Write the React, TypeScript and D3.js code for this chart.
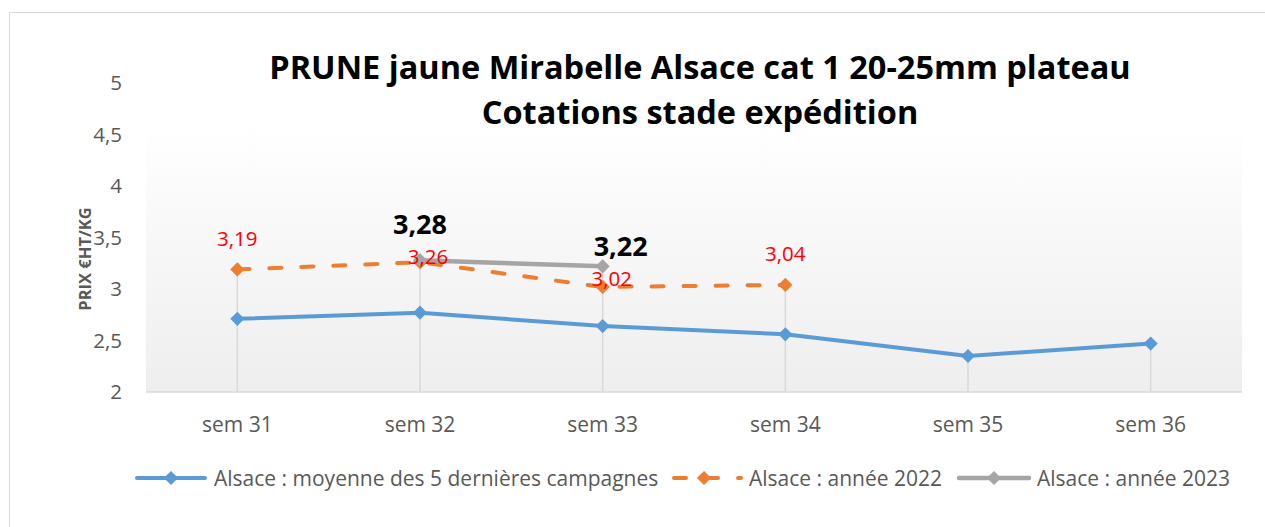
import React from "react";
import * as d3 from "d3";

const categories = ["sem 31", "sem 32", "sem 33", "sem 34", "sem 35", "sem 36"];
const moyenne = [2.71, 2.77, 2.64, 2.56, 2.35, 2.47];
const annee2022 = [3.19, 3.26, 3.02, 3.04, null, null];
const annee2023 = [null, 3.28, 3.22, null, null, null];
const yTicks = [2, 2.5, 3, 3.5, 4, 4.5, 5];
const titleLines = [
  "PRUNE jaune Mirabelle Alsace cat 1 20-25mm plateau",
  "Cotations stade expédition",
];
const legendLabels = [
  "Alsace : moyenne des 5 dernières campagnes",
  "Alsace : année 2022",
  "Alsace : année 2023",
];

// décalages des étiquettes (déplacées à la main dans l'original)
const offsets2022 = [
  [0, -31],
  [8, -6],
  [9, -8],
  [0, -31],
];
const offsets2023 = [null, [0, -36], [18, -20]];

type Val = number | null;

export default function App() {
  const width = 1265;
  const height = 527;
  const plot = { left: 146, right: 1242, top: 83, bottom: 392, fillTop: 123 };
  const font = "'Open Sans', sans-serif";
  const gray = "#595959";

  const colors = ["#5b9bd5", "#ed7d31", "#a5a5a5"];

  const x = d3
    .scalePoint<string>()
    .domain(categories)
    .range([plot.left, plot.right])
    .padding(0.5);
  const y = d3.scaleLinear().domain([2, 5]).range([plot.bottom, plot.top]);

  const line = d3
    .line<Val>()
    .defined((d) => d !== null)
    .x((_, i) => x(categories[i]) as number)
    .y((d) => y(d as number));

  const diamond = d3.symbol(d3.symbolSquare, 100)() as string;
  const fmt = (v: number) => String(v).replace(".", ",");

  const series: { values: Val[]; color: string; width: number; dash?: string }[] = [
    { values: moyenne, color: colors[0], width: 4 },
    { values: annee2022, color: colors[1], width: 4, dash: "12 20" },
    { values: annee2023, color: colors[2], width: 4.5 },
  ];

  // lignes de projection : du point le plus haut jusqu'à l'axe
  const maxima = categories.map((_, i) =>
    d3.max([moyenne[i], annee2022[i], annee2023[i]].filter((v) => v !== null) as number[])
  );

  const legendItems = [
    { x1: 137, x2: 205, mx: 171, tx: 214 },
    { x1: 674, x2: 741, mx: 704, tx: 749 },
    { x1: 959, x2: 1029, mx: 994, tx: 1037 },
  ];
  const legendY = 478;

  return (
    <svg
      width={width}
      height={height}
      style={{ position: "absolute", left: 0, top: 0, background: "#fff" }}
    >
      <defs>
        <linearGradient id="plotFill" x1="0" y1="0" x2="0" y2="1">
          <stop offset="0" stopColor="#ffffff" />
          <stop offset="1" stopColor="#eeeeee" />
        </linearGradient>
      </defs>

      <rect x={9.5} y={12.5} width={1300} height={600} fill="#fff" stroke="#d9d9d9" />

      <rect
        x={plot.left}
        y={plot.fillTop}
        width={plot.right - plot.left}
        height={plot.bottom - plot.fillTop}
        fill="url(#plotFill)"
      />

      {/* titre */}
      {titleLines.map((t, i) => (
        <text
          key={i}
          x={700}
          y={i === 0 ? 79 : 124}
          textAnchor="middle"
          fontFamily={font}
          fontWeight="bold"
          fontSize={32.5}
          fill="#000"
        >
          {t}
        </text>
      ))}

      {/* axe y */}
      {yTicks.map((t) => (
        <text
          key={t}
          x={122}
          y={y(t)}
          dy="0.36em"
          textAnchor="end"
          fontFamily={font}
          fontSize={20.5}
          fill={gray}
        >
          {fmt(t)}
        </text>
      ))}
      <text
        transform={`translate(91,259) rotate(-90)`}
        textAnchor="middle"
        fontFamily={font}
        fontWeight="bold"
        fontSize={16.5}
        fill={gray}
      >
        PRIX €HT/KG
      </text>

      {/* lignes de projection */}
      {categories.map((c, i) => (
        <line
          key={c}
          x1={x(c)}
          x2={x(c)}
          y1={y(maxima[i] as number)}
          y2={plot.bottom}
          stroke="#d9d9d9"
          strokeWidth={1.5}
        />
      ))}

      {/* axe x */}
      <line x1={plot.left} x2={plot.right} y1={plot.bottom} y2={plot.bottom} stroke="#d9d9d9" strokeWidth={1.5} />
      {categories.map((c) => (
        <text
          key={c}
          x={x(c)}
          y={432}
          textAnchor="middle"
          fontFamily={font}
          fontSize={21}
          fill={gray}
        >
          {c}
        </text>
      ))}

      {/* séries */}
      {series.map((s, si) => (
        <g key={si}>
          <path
            d={line(s.values) as string}
            fill="none"
            stroke={s.color}
            strokeWidth={s.width}
            strokeDasharray={s.dash}
            strokeLinecap="round"
            strokeLinejoin="round"
          />
          {s.values.map((v, i) =>
            v === null ? null : (
              <path
                key={i}
                d={diamond}
                transform={`translate(${x(categories[i])},${y(v)}) rotate(45)`}
                fill={s.color}
              />
            )
          )}
        </g>
      ))}

      {/* étiquettes 2022 */}
      {annee2022.map((v, i) =>
        v === null ? null : (
          <text
            key={i}
            x={(x(categories[i]) as number) + offsets2022[i][0]}
            y={y(v) + offsets2022[i][1]}
            dy="0.36em"
            textAnchor="middle"
            fontFamily={font}
            fontSize={20.5}
            fill="#ff0000"
          >
            {fmt(v)}
          </text>
        )
      )}

      {/* étiquettes 2023 */}
      {annee2023.map((v, i) => {
        const o = offsets2023[i];
        return v === null || !o ? null : (
          <text
            key={i}
            x={(x(categories[i]) as number) + o[0]}
            y={y(v) + o[1]}
            dy="0.36em"
            textAnchor="middle"
            fontFamily={font}
            fontWeight="bold"
            fontSize={27}
            fill="#000"
          >
            {fmt(v)}
          </text>
        );
      })}

      {/* légende */}
      {legendItems.map((l, i) => (
        <g key={i}>
          <line
            x1={l.x1}
            x2={l.x2}
            y1={legendY}
            y2={legendY}
            stroke={series[i].color}
            strokeWidth={series[i].width}
            strokeDasharray={series[i].dash}
            strokeLinecap="round"
          />
          <path d={diamond} transform={`translate(${l.mx},${legendY}) rotate(45)`} fill={series[i].color} />
          <text x={l.tx} y={legendY} dy="0.36em" fontFamily={font} fontSize={21} fill={gray}>
            {legendLabels[i]}
          </text>
        </g>
      ))}
    </svg>
  );
}
